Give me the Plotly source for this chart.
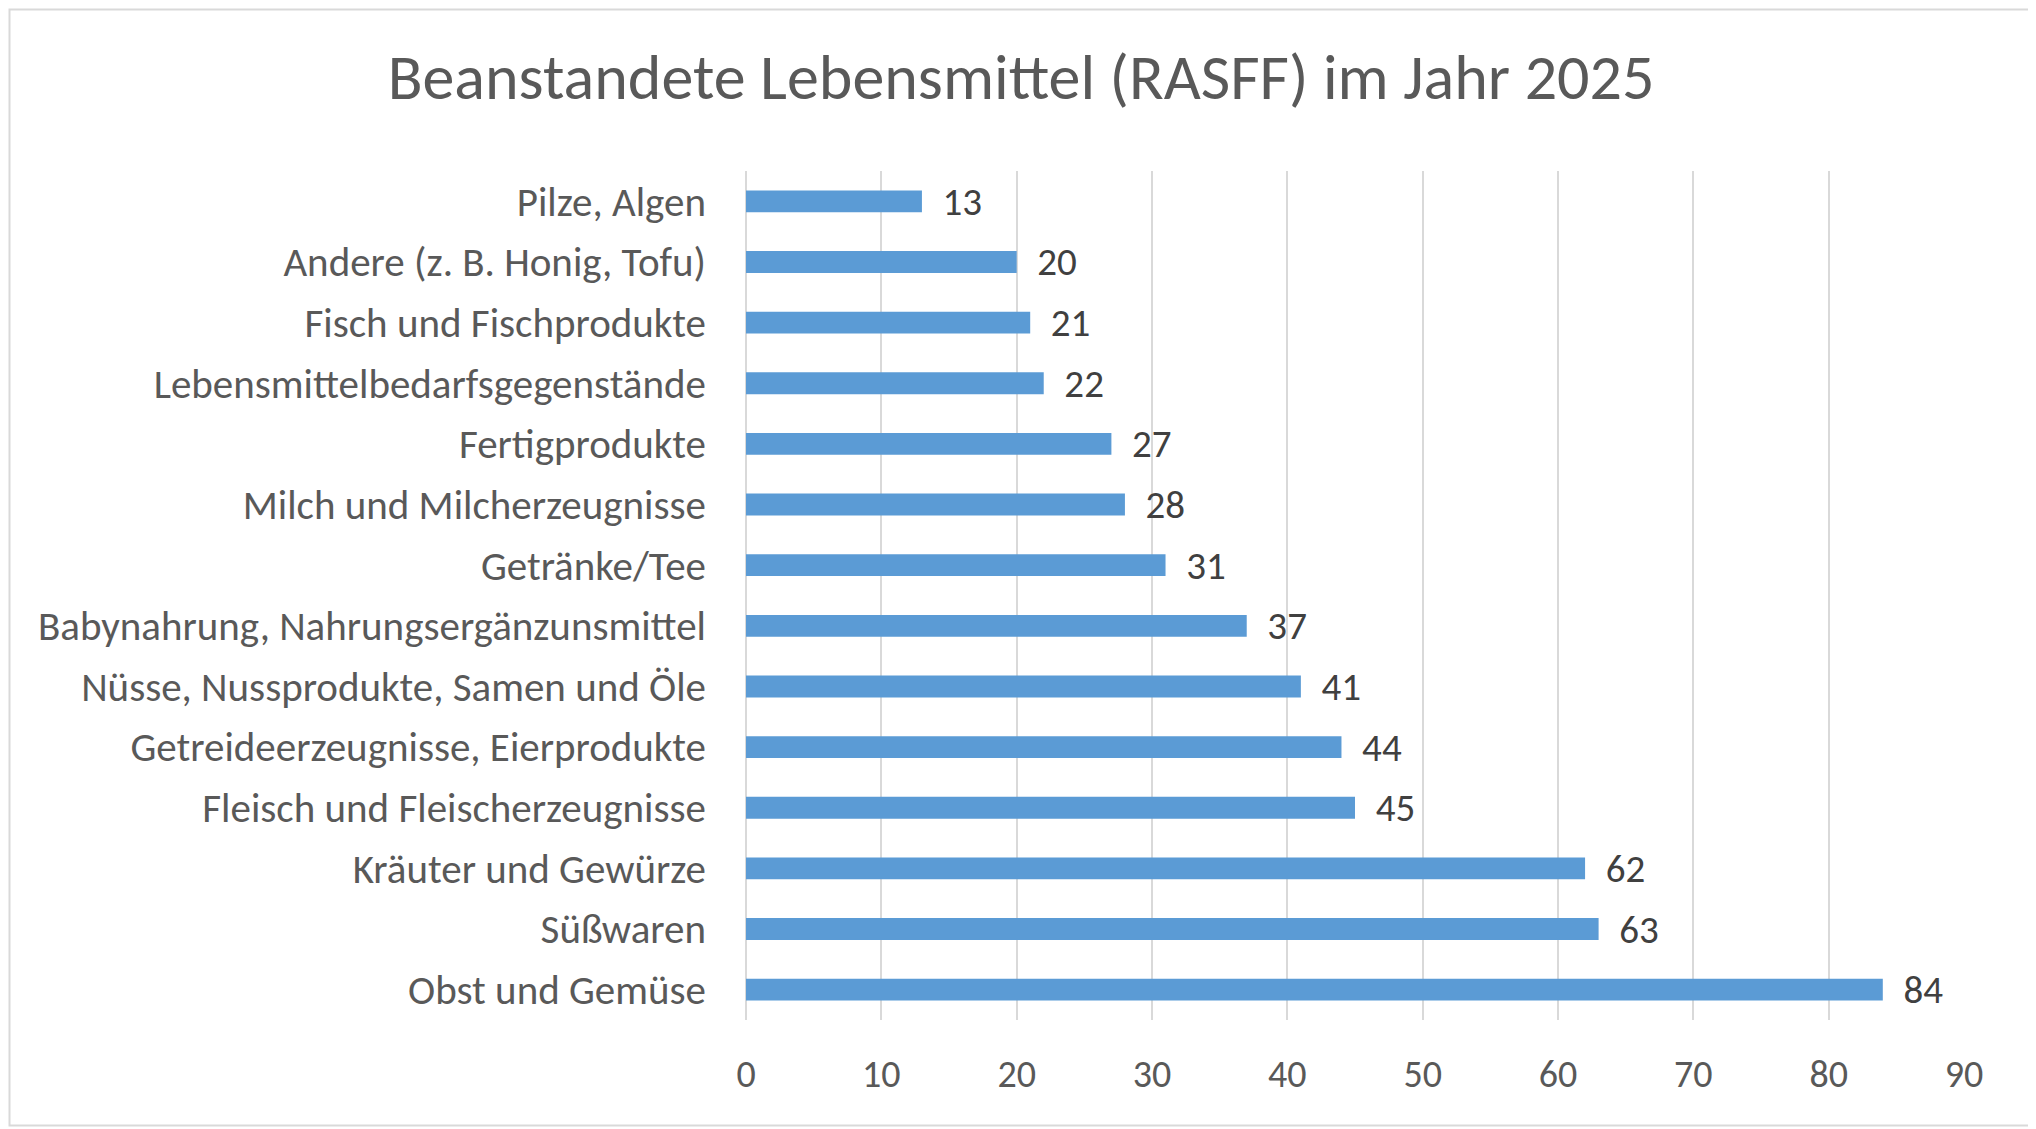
import plotly.graph_objects as go

categories = [
    "Pilze, Algen",
    "Andere (z. B. Honig, Tofu)",
    "Fisch und Fischprodukte",
    "Lebensmittelbedarfsgegenstände",
    "Fertigprodukte",
    "Milch und Milcherzeugnisse",
    "Getränke/Tee",
    "Babynahrung, Nahrungsergänzunsmittel",
    "Nüsse, Nussprodukte, Samen und Öle",
    "Getreideerzeugnisse, Eierprodukte",
    "Fleisch und Fleischerzeugnisse",
    "Kräuter und Gewürze",
    "Süßwaren",
    "Obst und Gemüse",
]
values = [13, 20, 21, 22, 27, 28, 31, 37, 41, 44, 45, 62, 63, 84]
x_ticks = [0, 10, 20, 30, 40, 50, 60, 70, 80, 90]

FONT = "Carlito, Calibri, Lato, sans-serif"

W, H = 2026, 1119
L, T = 738, 163
PW, PH = 1218, 849
R, B = W - L - PW, H - T - PH

fig = go.Figure()
fig.add_trace(go.Bar(
    y=categories,
    x=values,
    orientation="h",
    marker=dict(color="#5B9BD5", line=dict(width=0)),
    text=values,
    texttemplate="\u00a0\u00a0%{x}",
    textposition="outside",
    constraintext="none",
    textfont=dict(family=FONT, size=39, color="#404040"),
    cliponaxis=False,
    hoverinfo="skip",
))

fig.update_layout(
    width=W,
    height=H,
    margin=dict(l=L, r=R, t=T, b=B),
    paper_bgcolor="white",
    plot_bgcolor="white",
    bargap=0.64,
    showlegend=False,
    title=dict(
        text="Beanstandete Lebensmittel (RASFF) im Jahr 2025",
        x=0.5, xanchor="center",
        y=1 - 69 / H, yanchor="middle",
        font=dict(family=FONT, size=64, color="#595959"),
    ),
    font=dict(family=FONT, color="#595959"),
    shapes=[dict(
        type="rect", xref="paper", yref="paper",
        x0=-(L - 1.5) / PW, x1=1 + (R - 1.5) / PW,
        y0=-(B - 1.5) / PH, y1=1 + (T - 1.5) / PH,
        line=dict(color="#D9D9D9", width=2),
        fillcolor="rgba(0,0,0,0)",
        layer="below",
    )],
)

fig.update_xaxes(
    range=[0, 90],
    tickvals=x_ticks,
    ticktext=[str(t) for t in x_ticks],
    showgrid=True,
    gridcolor="#D9D9D9",
    gridwidth=2,
    zeroline=True,
    zerolinecolor="#D9D9D9",
    zerolinewidth=2,
    showline=False,
    ticks="",
    ticklabelstandoff=28,
    tickfont=dict(family=FONT, size=38, color="#595959"),
    fixedrange=True,
)
fig.update_yaxes(
    categoryorder="array",
    categoryarray=categories,
    autorange="reversed",
    showgrid=False,
    showline=False,
    ticks="",
    ticklabelstandoff=39,
    tickfont=dict(family=FONT, size=41, color="#595959"),
    fixedrange=True,
)

fig.write_html("out.html")
